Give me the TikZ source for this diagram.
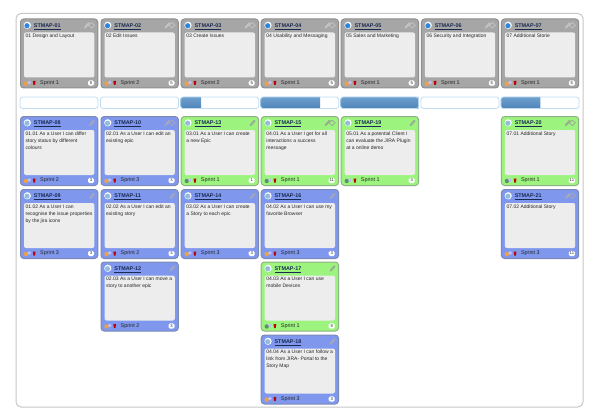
\documentclass[tikz,border=0pt]{standalone}
\usepackage{fontspec}
\setmainfont{Liberation Sans}
\definecolor{cardgrey}{HTML}{A6A6A6}
\definecolor{cardgreyline}{HTML}{8E8E8E}
\definecolor{cardgreyspot}{HTML}{F0A040}
\definecolor{cardgreyglobe}{HTML}{2F86E0}
\definecolor{cardgreypen}{HTML}{C4C4C4}
\definecolor{cardblue}{HTML}{7F98EE}
\definecolor{cardblueline}{HTML}{7C89B4}
\definecolor{cardbluespot}{HTML}{F0A040}
\definecolor{cardblueglobe}{HTML}{8FBCE0}
\definecolor{cardbluepen}{HTML}{A8A8B4}
\definecolor{cardgreen}{HTML}{9CF47E}
\definecolor{cardgreenline}{HTML}{8FB083}
\definecolor{cardgreenspot}{HTML}{5F8F70}
\definecolor{cardgreenglobe}{HTML}{8FBCE0}
\definecolor{cardgreenpen}{HTML}{9AA894}
\definecolor{textbox}{HTML}{EDEDED}
\definecolor{barline}{HTML}{BFDCF3}
\definecolor{bartop}{HTML}{6E9FCE}
\definecolor{barbottom}{HTML}{4F83B8}
\definecolor{linktext}{HTML}{1A2A50}
\tikzset{
  cardbox/.style={rounded corners=3.2pt,line width=1pt},
  storytext/.style={anchor=north west,inner sep=0pt,align=left,font=\fontsize{5}{6.9}\selectfont,text=black!85},
  titletext/.style={anchor=west,inner sep=0pt,font=\fontsize{5.4}{6}\selectfont\bfseries,text=linktext},
  sprinttext/.style={anchor=west,inner sep=0pt,font=\fontsize{5.4}{6}\selectfont,text=black!85},
  countbadge/.style={draw=none,fill=white,rounded corners=1.5pt,minimum width=6pt,minimum height=5.4pt,inner sep=0pt,font=\fontsize{4.2}{5}\selectfont,text=black!85},
}
% card: name, left, top, colour, number, story, sprint, count, pencil offset
\newcommand{\storycard}[9]{
\draw[cardbox,draw=#4line,fill=#4] (#2+.5,#3+.5) rectangle (#2+77.8,#3+69.5);
\fill[textbox,rounded corners=2pt] (#2+4,#3+14) rectangle (#2+74.3,#3+59);
\node[titletext] (#1title) at (#2+13.7,#3+8) {\underline{STMAP-#5}};
\node[storytext] (#1text) at (#2+5.5,#3+15.6) {#6};
\node[sprinttext] (#1sprint) at (#2+20,#3+64.5) {#7};
\node[countbadge] (#1count) at (#2+71,#3+64.5) {#8};
% icons
\fill[#4pen] (#2+#9,#3+10) -- (#2+#9+.6,#3+8) -- (#2+#9+4.4,#3+3.8) -- (#2+#9+5.8,#3+5) -- (#2+#9+2,#3+9.4) -- cycle;
\ifnum#9<65
\draw[#4pen,line width=.7pt] (#2+71.5,#3+4) -- (#2+74.5,#3+6.8) -- (#2+71.5,#3+9.6) -- (#2+68.5,#3+6.8) -- cycle;
\fi
\fill[white] (#2+7.3,#3+6.8) circle (3.6);
\fill[#4globe] (#2+7,#3+7.2) circle (2.6);
\fill[#4spot] (#2+6,#3+65) circle (2.2);
\fill[blue!25!white] (#2+9.2,#3+64) circle (1.9);
\fill[red!75!black] (#2+12.8,#3+62.5) -- (#2+15.6,#3+62.5) -- (#2+15,#3+66.5) -- (#2+13.4,#3+66.5) -- cycle;
}
\begin{document}
\begin{tikzpicture}[x=1pt,y=-1pt]
\useasboundingbox (0,0) rectangle (600,420);
\fill[white] (0,0) rectangle (600,420);
\draw[black!22,line width=1pt,rounded corners=5pt] (16,13.5) rectangle (583,407);
% stories row
\storycard{ca}{20}{18.5}{cardgrey}{01}{01 Design and Layout}{Sprint 1}{5}{64}
\storycard{cb}{100.5}{18.5}{cardgrey}{02}{02 Edit Issues}{Sprint 2}{5}{64}
\storycard{cc}{180.7}{18.5}{cardgrey}{03}{03 Create Issues}{Sprint 2}{5}{64}
\storycard{cd}{260.7}{18.5}{cardgrey}{04}{04 Usability and Messaging}{Sprint 1}{5}{64}
\storycard{ce}{340.7}{18.5}{cardgrey}{05}{05 Sales and Marketing}{Sprint 1}{5}{64}
\storycard{cf}{420.9}{18.5}{cardgrey}{06}{06 Security and Integration}{Sprint 1}{5}{64}
\storycard{cg}{500.9}{18.5}{cardgrey}{07}{07 Additional Storie}{Sprint 1}{5}{64}
% progress bars
\foreach \barx/\done in {180.7/20.5,260.7/59.5,340.7/77.8,500.9/39.5}{
\shade[top color=bartop,bottom color=barbottom] (\barx+\done,97) -- (\barx+\done,108.5) {[rounded corners=2pt] -- (\barx,108.5) -- (\barx,97)} -- cycle;
}
\foreach \barx in {20,100.5,180.7,260.7,340.7,420.9,500.9}{
\draw[barline,line width=.8pt,rounded corners=2.5pt] (\barx,97) rectangle (\barx+78,108.5);
}
% cards
\storycard{da}{20}{116}{cardblue}{08}{01.01 As a User I can differ\\story status by different\\colours}{Sprint 2}{3}{69}
\storycard{db}{100.5}{116}{cardblue}{10}{02.01 As a User I can edit an\\existing epic}{Sprint 3}{3}{64}
\storycard{dc}{180.7}{116}{cardgreen}{13}{03.01 As a User I can create\\a new Epic}{Sprint 1}{1}{69}
\storycard{dd}{260.7}{116}{cardgreen}{15}{04.01 As a User I get for all\\interactions a success\\message}{Sprint 1}{11}{64}
\storycard{de}{340.7}{116}{cardgreen}{19}{05.01 As a potential Client I\\can evaluate the JIRA Plugin\\at a online demo}{Sprint 1}{3}{69}
\storycard{dg}{500.9}{116}{cardgreen}{20}{07.01 Additional Story}{Sprint 1}{11}{64}
\storycard{ea}{20}{189}{cardblue}{09}{01.02 As a User I can\\recognise the issue properties\\by the jira icons}{Sprint 3}{3}{69}
\storycard{eb}{100.5}{189}{cardblue}{11}{02.02 As a User I can edit an\\existing story}{Sprint 2}{3}{69}
\storycard{ec}{180.7}{189}{cardblue}{14}{03.02 As a User I can create\\a Story to each epic}{Sprint 3}{3}{69}
\storycard{ed}{260.7}{189}{cardblue}{16}{04.02 As a User I can use my\\favorite Browser}{Sprint 3}{3}{69}
\storycard{eg}{500.9}{189}{cardblue}{21}{07.02 Additional Story}{Sprint 3}{11}{64}
\storycard{fb}{100.5}{261.5}{cardblue}{12}{02.03 As a User I can move a\\story to another epic}{Sprint 2}{3}{69}
\storycard{fd}{260.7}{261.5}{cardgreen}{17}{04.03 As a User I can use\\mobile Devices}{Sprint 1}{8}{69}
\storycard{gd}{260.7}{334.5}{cardblue}{18}{04.04 As a User I can follow a\\link from JIRA- Portal to the\\Story Map}{Sprint 3}{3}{69}
\end{tikzpicture}
\end{document}
